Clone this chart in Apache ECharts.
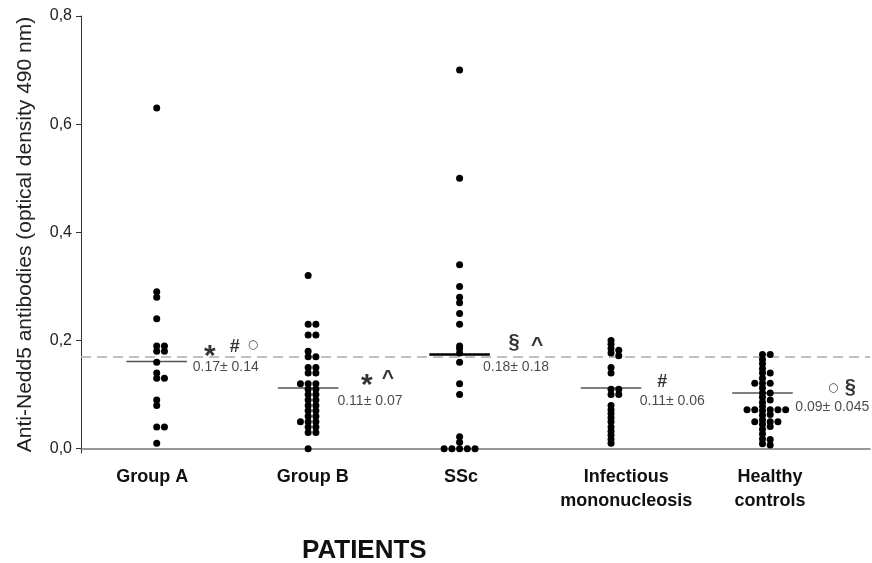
<!DOCTYPE html>
<html>
<head>
<meta charset="utf-8">
<title>Anti-Nedd5 antibodies</title>
<script src="https://cdn.jsdelivr.net/npm/echarts@6/dist/echarts.min.js"></script>
<style>
  html, body { margin: 0; padding: 0; background: #fff; }
  #chart { width: 872px; height: 563px; }
</style>
</head>
<body>
<div id="chart"></div>
<script>
// groups on the x axis
var categories = ['Group A', 'Group B', 'SSc', 'Infectious\nmononucleosis', 'Healthy\ncontrols'];

// each dot: [optical density, swarm column]
var groupA = [[0.63, 0], [0.29, 0], [0.28, 0], [0.24, 0], [0.19, 0], [0.19, 1], [0.18, 0], [0.18, 1],
  [0.16, 0], [0.14, 0], [0.13, 0], [0.13, 1], [0.09, 0], [0.08, 0], [0.04, 0], [0.04, 1], [0.01, 0]];

var groupB = [[0.32, 0], [0.23, 0], [0.23, 1], [0.21, 0], [0.21, 1], [0.18, 0], [0.17, 0], [0.17, 1],
  [0.15, 0], [0.15, 1], [0.14, 0], [0.14, 1], [0.12, -1], [0.12, 0], [0.12, 1], [0.11, 0], [0.11, 1],
  [0.10, 0], [0.10, 1], [0.09, 0], [0.09, 1], [0.08, 0], [0.08, 1], [0.07, 0], [0.07, 1], [0.06, 0],
  [0.06, 1], [0.05, -1], [0.05, 0], [0.05, 1], [0.04, 0], [0.04, 1], [0.03, 0], [0.03, 1], [0.00, 0]];

var ssc = [[0.70, 0], [0.50, 0], [0.34, 0], [0.30, 0], [0.28, 0], [0.27, 0], [0.25, 0], [0.23, 0],
  [0.19, 0], [0.185, 0], [0.177, 0], [0.16, 0], [0.12, 0], [0.10, 0], [0.022, 0], [0.012, 0],
  [0, -2], [0, -1], [0, 0], [0, 1], [0, 2]];

var mono = [[0.20, 0], [0.193, 0], [0.185, 0], [0.177, 0], [0.182, 1], [0.172, 1], [0.15, 0], [0.14, 0],
  [0.11, 0], [0.11, 1], [0.10, 0], [0.10, 1], [0.08, 0], [0.072, 0], [0.065, 0], [0.057, 0],
  [0.05, 0], [0.04, 0], [0.032, 0], [0.025, 0], [0.017, 0], [0.01, 0]];

var healthy = [[0.174, 0], [0.165, 0], [0.157, 0], [0.148, 0], [0.14, 0], [0.13, 0], [0.121, 0], [0.112, 0],
  [0.103, 0], [0.095, 0], [0.086, 0], [0.078, 0], [0.07, 0], [0.062, 0], [0.053, 0], [0.045, 0],
  [0.036, 0], [0.027, 0], [0.018, 0], [0.009, 0],
  [0.174, 1], [0.14, 1], [0.121, 1], [0.103, 1], [0.09, 1], [0.072, 1], [0.063, 1], [0.05, 1],
  [0.041, 1], [0.017, 1], [0.007, 1],
  [0.121, -1], [0.072, -1], [0.05, -1], [0.072, -2], [0.072, 2], [0.05, 2], [0.072, 3]];

var groups = [groupA, groupB, ssc, mono, healthy];

// horizontal mean bars as drawn, and the printed mean ± SD
var meanBar = [0.161, 0.112, 0.174, 0.112, 0.103];
var meanText = ['0.17\u00b1 0.14', '0.11\u00b1 0.07', '0.18\u00b1 0.18', '0.11\u00b1 0.06', '0.09\u00b1 0.045'];
var cutoff = 0.174;
var yTicks = [0, 0.2, 0.4, 0.6, 0.8];

var colStep = 0.051;
var font = "'Liberation Sans', Arial, Helvetica, sans-serif";

var chart = echarts.init(document.getElementById('chart'));

var series = [];
groups.forEach(function (g, i) {
  series.push({
    type: 'scatter',
    symbolSize: 7,
    itemStyle: { color: '#000', opacity: 1 },
    z: 5,
    data: g.map(function (d) { return [i + 1 + d[1] * colStep, d[0]]; }),
    markLine: i === 0 ? {
      silent: true,
      symbol: 'none',
      label: { show: false },
      lineStyle: { color: '#aaa', type: [10, 6], width: 1.5 },
      data: [{ yAxis: cutoff }],
      z: 1
    } : undefined
  });
  series.push({
    type: 'line',
    symbol: 'none',
    silent: true,
    z: 3,
    lineStyle: { color: i === 2 ? '#000' : '#555', width: i === 2 ? 2.5 : 1.5 },
    data: [[i + 1 - 0.2, meanBar[i]], [i + 1 + 0.2, meanBar[i]]]
  });
});

// significance marks and mean ± SD text, placed in data units
var notes = [
  { t: '*', x: 1.35, y: 0.185, s: 30, dy: 8 },
  { t: '#', x: 1.516, y: 0.188, s: 18 },
  { t: '\u25cb', x: 1.635, y: 0.192, s: 12, f: 'DejaVu Sans' },
  { t: meanText[0], x: 1.456, y: 0.150, s: 14, w: 'normal' },
  { t: '*', x: 2.388, y: 0.131, s: 30, dy: 8 },
  { t: '^', x: 2.527, y: 0.137, s: 21, dy: 4 },
  { t: meanText[1], x: 2.408, y: 0.087, s: 14, w: 'normal' },
  { t: '\u00a7', x: 3.36, y: 0.196, s: 20 },
  { t: '^', x: 3.512, y: 0.198, s: 21, dy: 4 },
  { t: meanText[2], x: 3.373, y: 0.150, s: 14, w: 'normal' },
  { t: '#', x: 4.338, y: 0.124, s: 18 },
  { t: meanText[3], x: 4.404, y: 0.087, s: 14, w: 'normal' },
  { t: '\u25cb', x: 5.468, y: 0.113, s: 12, f: 'DejaVu Sans' },
  { t: '\u00a7', x: 5.58, y: 0.113, s: 20 },
  { t: meanText[4], x: 5.461, y: 0.076, s: 14, w: 'normal' }
];

series.push({
  type: 'scatter',
  silent: true,
  symbolSize: 0,
  z: 6,
  data: notes.map(function (n) {
    return {
      value: [n.x, n.y],
      name: n.t,
      label: {
        show: true,
        position: 'inside',
        formatter: '{b}',
        color: n.w ? '#1a1a1a' : '#000',
        fontSize: n.s,
        fontWeight: n.w || 'bold',
        fontFamily: n.f || font,
        offset: [0, n.dy || 0]
      }
    };
  })
});

var option = {
  animation: false,
  backgroundColor: '#fff',
  title: {
    text: 'PATIENTS',
    left: 297,
    top: 533,
    textStyle: { fontSize: 26, fontWeight: 'bold', color: '#111', fontFamily: font }
  },
  grid: { left: 81, right: 2, top: 16, bottom: 110, outerBoundsMode: 'none' },
  xAxis: {
    type: 'value',
    min: 0.5,
    max: 5.71,
    axisLine: { lineStyle: { color: '#777', width: 1.5 } },
    axisTick: { show: false },
    splitLine: { show: false },
    axisLabel: {
      // label centres sit a little right of the dot columns for the last groups
      customValues: [0.97, 2.03, 3.01, 4.1, 5.05],
      margin: 12,
      color: '#111',
      fontSize: 18,
      fontWeight: 'bold',
      lineHeight: 24,
      fontFamily: font,
      formatter: function (v) { return categories[Math.round(v) - 1]; }
    }
  },
  yAxis: {
    type: 'value',
    min: -0.008,
    max: 0.8,
    name: 'Anti-Nedd5 antibodies (optical density 490 nm)',
    nameLocation: 'middle',
    nameGap: 45,
    nameTextStyle: { fontSize: 21, color: '#222', fontFamily: font },
    axisLine: { show: true, lineStyle: { color: '#333', width: 1 } },
    axisTick: { show: true, length: 5, customValues: yTicks, lineStyle: { color: '#333' } },
    splitLine: { show: false },
    axisLabel: {
      customValues: yTicks,
      margin: 9,
      color: '#222',
      fontSize: 16,
      fontFamily: font,
      formatter: function (v) { return v.toFixed(1).replace('.', ','); }
    }
  },
  series: series
};

chart.setOption(option);
</script>
</body>
</html>
